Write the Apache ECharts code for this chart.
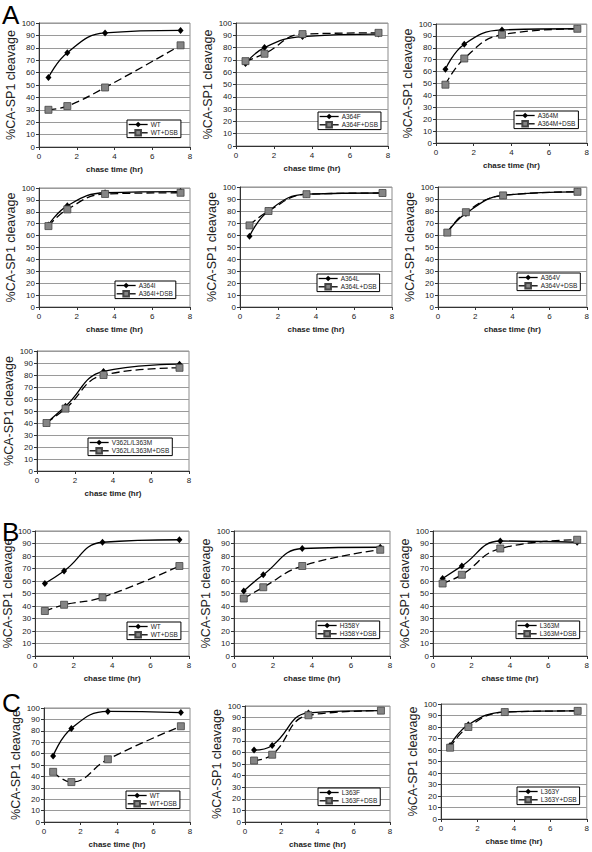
<!DOCTYPE html>
<html><head><meta charset="utf-8">
<script src="https://cdn.jsdelivr.net/npm/echarts@6/dist/echarts.min.js"></script>
<style>html,body{margin:0;padding:0;background:#fff}#c{width:592px;height:852px}</style>
</head><body><div id="c"></div>
<script>
// ---- data ----
const chaseTime = [0.5, 1.5, 3.5, 7.5];
const xTicks = [0, 2, 4, 6, 8];
const yTicks = [0, 10, 20, 30, 40, 50, 60, 70, 80, 90, 100];
const yAxisTitle = '%CA-SP1 cleavage';
const xAxisTitle = 'chase time (hr)';
const panelLetters = ['A', 'B', 'C'];

const namesA1 = ['WT', 'WT+DSB'];
const a1Plain = [56, 76, 92, 94];
const a1Dsb = [30, 33, 48, 82];

const namesA2 = ['A364F', 'A364F+DSB'];
const a2Plain = [67, 80, 89, 91];
const a2Dsb = [69, 75, 91, 92];

const namesA3 = ['A364M', 'A364M+DSB'];
const a3Plain = [62, 83, 95, 96];
const a3Dsb = [49, 71, 91, 96];

const namesA4 = ['A364I', 'A364I+DSB'];
const a4Plain = [69, 85, 96, 97];
const a4Dsb = [68, 82, 95, 96];

const namesA5 = ['A364L', 'A364L+DSB'];
const a5Plain = [59, 80, 94, 95];
const a5Dsb = [68, 80, 94, 95];

const namesA6 = ['A364V', 'A364V+DSB'];
const a6Plain = [62, 78, 93, 96];
const a6Dsb = [62, 79, 93, 96];

const namesA7 = ['V362L/L363M', 'V362L/L363M+DSB'];
const a7Plain = [40, 54, 83, 89];
const a7Dsb = [40, 52, 80, 86];

const namesB1 = ['WT', 'WT+DSB'];
const b1Plain = [58, 68, 91, 93];
const b1Dsb = [36, 41, 47, 72];

const namesB2 = ['H358Y', 'H358Y+DSB'];
const b2Plain = [52, 65, 86, 87];
const b2Dsb = [46, 55, 72, 85];

const namesB3 = ['L363M', 'L363M+DSB'];
const b3Plain = [62, 72, 92, 91];
const b3Dsb = [58, 65, 86, 93];

const namesC1 = ['WT', 'WT+DSB'];
const c1Plain = [58, 82, 97, 96];
const c1Dsb = [44, 35, 55, 84];

const namesC2 = ['L363F', 'L363F+DSB'];
const c2Plain = [62, 66, 94, 96];
const c2Dsb = [53, 58, 92, 96];

const namesC3 = ['L363Y', 'L363Y+DSB'];
const c3Plain = [64, 82, 93, 94];
const c3Dsb = [62, 80, 93, 94];

const panels = [
  [namesA1, a1Plain, a1Dsb], [namesA2, a2Plain, a2Dsb], [namesA3, a3Plain, a3Dsb],
  [namesA4, a4Plain, a4Dsb], [namesA5, a5Plain, a5Dsb], [namesA6, a6Plain, a6Dsb],
  [namesA7, a7Plain, a7Dsb],
  [namesB1, b1Plain, b1Dsb], [namesB2, b2Plain, b2Dsb], [namesB3, b3Plain, b3Dsb],
  [namesC1, c1Plain, c1Dsb], [namesC2, c2Plain, c2Dsb], [namesC3, c3Plain, c3Dsb]
];

// ---- layout (pixels: left, right, top, bottom of plot; legend left, top) ----
const layout = [
  {l: 39, r: 190, t: 23, b: 147, lx: 127, ly: 120},
  {l: 236, r: 388, t: 23, b: 146, lx: 318, ly: 112},
  {l: 436, r: 587, t: 24, b: 143, lx: 514, ly: 111},
  {l: 39, r: 190, t: 188, b: 307, lx: 115, ly: 281},
  {l: 240, r: 392, t: 187, b: 307, lx: 317, ly: 274},
  {l: 438, r: 590, t: 187, b: 307, lx: 517, ly: 273},
  {l: 37, r: 189, t: 351, b: 471, lx: 88, ly: 438},
  {l: 34, r: 189, t: 531, b: 656, lx: 127, ly: 622},
  {l: 234, r: 390, t: 531, b: 656, lx: 316, ly: 621},
  {l: 433, r: 590, t: 531, b: 656, lx: 516, ly: 621},
  {l: 44, r: 190, t: 708, b: 822, lx: 126, ly: 791},
  {l: 245, r: 390, t: 706, b: 822, lx: 318, ly: 788},
  {l: 441, r: 588, t: 704, b: 819, lx: 517, ly: 787}
];
const letterPos = [[2, 2], [2, 519], [2, 690]];

const W = 592, H = 852;
const FONT = 'Liberation Sans, Arial, sans-serif';
const grid = [], xAxis = [], yAxis = [], series = [], legend = [];

panels.forEach((p, i) => {
  const L = layout[i];
  const [names, plain, dsb] = p;
  grid.push({left: L.l, width: L.r - L.l, top: L.t, height: L.b - L.t, show: true,
    borderColor: '#8c8c8c', borderWidth: 1, backgroundColor: '#fff', containLabel: false});
  xAxis.push({type: 'value', gridIndex: i, min: xTicks[0], max: xTicks[xTicks.length - 1],
    interval: xTicks[1] - xTicks[0],
    axisLine: {show: true, onZero: false, lineStyle: {color: '#333', width: 1}},
    axisTick: {show: true, length: 3, lineStyle: {color: '#333'}},
    axisLabel: {fontSize: 8, color: '#222', margin: 5, fontFamily: FONT},
    splitLine: {show: false},
    name: xAxisTitle, nameLocation: 'middle', nameGap: 18,
    nameTextStyle: {fontSize: 8, fontWeight: 'bold', color: '#222', fontFamily: FONT}});
  yAxis.push({type: 'value', gridIndex: i, min: yTicks[0], max: yTicks[yTicks.length - 1],
    interval: yTicks[1] - yTicks[0],
    axisLine: {show: true, onZero: false, lineStyle: {color: '#333', width: 1}},
    axisTick: {show: true, length: 3, lineStyle: {color: '#333'}},
    axisLabel: {fontSize: 8, color: '#222', margin: 4, fontFamily: FONT},
    splitLine: {show: true, lineStyle: {color: '#9a9a9a', width: 1}},
    name: yAxisTitle, nameLocation: 'middle', nameGap: 18,
    nameTextStyle: {fontSize: 12.5, color: '#222', fontFamily: 'Liberation Sans Narrow, Arial Narrow, sans-serif'}});
  series.push({type: 'line', name: names[0], xAxisIndex: i, yAxisIndex: i, smooth: 0.45,
    data: chaseTime.map((t, k) => [t, plain[k]]),
    symbol: 'diamond', symbolSize: [6, 7], showSymbol: true,
    itemStyle: {color: '#000'}, lineStyle: {color: '#000', width: 1.3}, z: 3, animation: false});
  series.push({type: 'line', name: names[1], xAxisIndex: i, yAxisIndex: i, smooth: 0.45,
    data: chaseTime.map((t, k) => [t, dsb[k]]),
    symbol: 'rect', symbolSize: 7, showSymbol: true,
    itemStyle: {color: '#858585', borderColor: '#444', borderWidth: 0.8},
    lineStyle: {color: '#000', width: 1.3, type: [8, 4]}, z: 4, animation: false});
  legend.push({data: names, left: L.lx, top: L.ly, orient: 'vertical',
    backgroundColor: '#fff', borderColor: '#000', borderWidth: 1, borderRadius: 0,
    padding: [1, 3, 1, 1], itemGap: 1, itemWidth: 19, itemHeight: 7,
    lineStyle: {type: 'solid', width: 1.3},
    textStyle: {fontSize: 6.5, color: '#222', fontFamily: FONT, padding: [0, 0, 0, -2]},
    selectedMode: false});
});

const graphic = panelLetters.map((s, i) => ({type: 'text', left: letterPos[i][0], top: letterPos[i][1],
  style: {text: s, fontSize: 26, lineHeight: 26, fontFamily: FONT, fill: '#000'}}));

const chart = echarts.init(document.getElementById('c'), null, {renderer: 'svg', width: W, height: H});
chart.setOption({animation: false, backgroundColor: '#fff', grid, xAxis, yAxis, series, legend, graphic});
</script>
</body></html>
